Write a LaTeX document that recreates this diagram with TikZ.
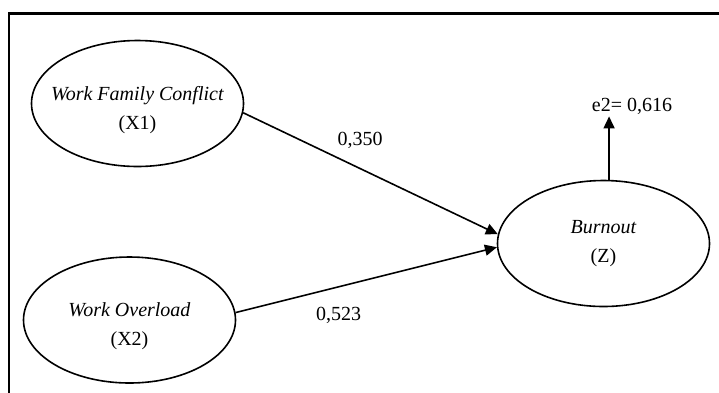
\documentclass[tikz,border=0pt]{standalone}
\usepackage{fontspec}
\setmainfont{Liberation Serif}
\usepackage{tikz}
\usetikzlibrary{arrows.meta,shapes.geometric}

\newcommand{\topgap}{\rule{0pt}{27pt}}

\begin{document}
\begin{tikzpicture}[
x=1pt, y=-1pt,
var/.style={
	draw, ellipse, line width=1.6pt,
	minimum width=212pt, minimum height=126pt,
	inner xsep=-14pt, align=center,
	font=\fontsize{20}{29}\selectfont
},
lbl/.style={font=\fontsize{20}{24}\selectfont, inner sep=2pt},
link/.style={line width=1.6pt, -{Triangle[length=12pt,width=11pt]}}
]
\useasboundingbox (0,0) rectangle (719,392);
\draw[line width=2.6pt] (9,400) -- (9,13.5) -- (725,13.5);
\node[var] (wfc) at (137.5,103.5) {\topgap\textit{Work Family Conflict}\\(X1)};
\node[var] (wo) at (129.5,320) {\topgap\textit{Work Overload}\\(X2)};
\node[var] (bo) at (603.5,243.5) {\textit{Burnout}\\(Z)};
\node[lbl] (e2) at (632,106) {e2= 0,616};
\node[lbl] (p1) at (360,140) {0,350};
\node[lbl] (p2) at (338.5,315) {0,523};
\draw[link] (wfc.-5) -- (bo.175);
\draw[link] (wo.4) -- (bo.182);
\draw[link] (bo.85) -- (bo.85 |- e2.south);
\end{tikzpicture}
\end{document}
